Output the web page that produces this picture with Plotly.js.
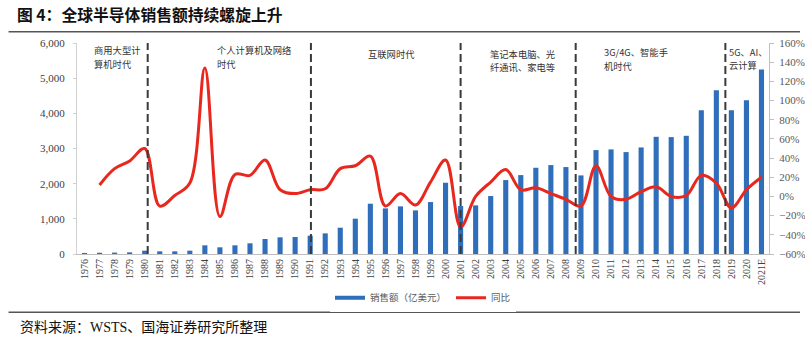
<!DOCTYPE html>
<html>
<head>
<meta charset="utf-8">
<script src="https://cdn.plot.ly/plotly-3.0.1.min.js"></script>
<style>html,body{margin:0;padding:0;background:#fff;}#chart{width:805px;height:338px;}</style>
</head>
<body>
<div id="chart"></div>
<script>
const years = ['1976','1977','1978','1979','1980','1981','1982','1983','1984','1985','1986','1987','1988','1989','1990',
  '1991','1992','1993','1994','1995','1996','1997','1998','1999','2000',
  '2001','2002','2003','2004','2005','2006','2007','2008','2009','2010',
  '2011','2012','2013','2014','2015','2016','2017','2018','2019','2020','2021E'];
const sales = [30,35,40,47,95,76,76,95,247,190,247,304,426,474,483,
  521,587,748,1004,1430,1297,1354,1240,1477,2026,
  1364,1383,1648,2102,2244,2452,2528,2472,2235,2955,
  2974,2898,3030,3333,3324,3361,4091,4659,4091,4375,5247];
const growth = [null,12,29,37,50,-10,1,14,134,-21,23,22,38,7,3,
  7,8,29,32,42,-10,3,-9,15,38,
  -32,0,15,28,7,9,3,-3,-10,32,
  0,-3,5,10,0,1,22,14,-12,7,20];
const eraBoundaries = [4.2, 15.05, 25, 32.65, 42.6];
const eraLabelLines = [['商用大型计','算机时代'],['个人计算机及网络','时代'],['互联网时代'],['笔记本电脑、光','纤通讯、家电等'],['3G/4G、智能手','机时代'],['5G、AI、','云计算']];
const eraLabelX = [0.0224, 0.2014, 0.4195, 0.5957, 0.7603, 0.9408];
const eraLabelY = [[0.9645,0.8995],[0.9645,0.8995],[0.948],[0.9502,0.8850],[0.955,0.890],[0.9597,0.8947]];
const seriesNames = ['销售额（亿美元）','同比'];

const BLUE = '#2f6eba', RED = '#e8281e';
const serif = '"Liberation Serif", "Noto Sans CJK SC", serif';
const cjk = '"Noto Sans CJK SC", sans-serif';

const traces = [
  {type:'bar', x: years, y: sales, name: seriesNames[0], marker:{color: BLUE}, showlegend:false, hoverinfo:'skip'},
  {type:'scatter', mode:'lines', x:[null], y:[null], name: seriesNames[0], line:{color: BLUE, width:4}, showlegend:true},
  {type:'scatter', mode:'lines', x: years, y: growth, name: seriesNames[1], yaxis:'y2',
   line:{color: RED, width:3, shape:'spline', smoothing:1}, connectgaps:false, showlegend:true}
];

const shapes = eraBoundaries.map(v => ({type:'line', xref:'x', yref:'paper', x0:v, x1:v, y0:0, y1:1,
  line:{color:'#3a3a3a', width:2, dash:'8px,4px'}}));
shapes.push({type:'line', xref:'paper', yref:'paper', x0:-0.0989, x1:1.0448, y0:1.0536, y1:1.0536, line:{color:'#555', width:1.6}});
shapes.push({type:'line', xref:'paper', yref:'paper', x0:-0.0989, x1:1.0448, y0:-0.2763, y1:-0.2763, line:{color:'#555', width:1.6}});

const annotations = [];
eraLabelLines.forEach((lines,i) => lines.forEach((t,j) => annotations.push({text:t, xref:'paper', yref:'paper',
  x:eraLabelX[i], y:eraLabelY[i][j], xanchor:'left', yanchor:'middle', align:'left', showarrow:false, borderpad:0,
  font:{family:cjk, size:9.3, color:'#333'}})));
annotations.push({text:'资料来源：WSTS、国海证券研究所整理', xref:'paper', yref:'paper', x:-0.0848, y:-0.346,
  xanchor:'left', yanchor:'middle', showarrow:false, font:{family:serif, size:14, color:'#111'}});

const layout = {
  width:805, height:338,
  margin:{l:76.5, r:36, t:43, b:84},
  paper_bgcolor:'#fff', plot_bgcolor:'#fff',
  title:{text:'<b>图 4：全球半导体销售额持续螺旋上升</b>', x:0.021, xanchor:'left', xref:'container',
    y:0.955, yanchor:'middle', yref:'container', font:{family:cjk, size:15.8, color:'#111'}},
  bargap:0.66,
  showlegend:true,
  legend:{orientation:'h', x:0.5, xanchor:'center', y:-0.207, yanchor:'middle',
    font:{family:cjk, size:9.5, color:'#595959'}, itemwidth:30, tracegroupgap:0},
  xaxis:{type:'category', tickangle:-90, tickfont:{family:serif, size:10, color:'#404040'},
    showline:true, linecolor:'#bfbfbf', linewidth:1, ticks:'', showgrid:false, zeroline:false, fixedrange:true},
  yaxis:{range:[0,6000], dtick:1000, tickformat:',', showgrid:false, zeroline:false,
    showline:true, linecolor:'#d0d0d0', ticks:'outside', ticklen:3, tickcolor:'#d0d0d0',
    ticklabelstandoff:6, tickfont:{family:serif, size:11, color:'#404040'}},
  yaxis2:{range:[-60,160], dtick:20, ticksuffix:'%', overlaying:'y', side:'right', showgrid:false, zeroline:false,
    showline:true, linecolor:'#bfbfbf', ticks:'outside', ticklen:4, tickcolor:'#bfbfbf',
    ticklabelstandoff:3, tickfont:{family:serif, size:11, color:'#595959'}},
  shapes: shapes,
  annotations: annotations
};
Plotly.newPlot('chart', traces, layout, {staticPlot:true, displayModeBar:false});
</script>
</body>
</html>
